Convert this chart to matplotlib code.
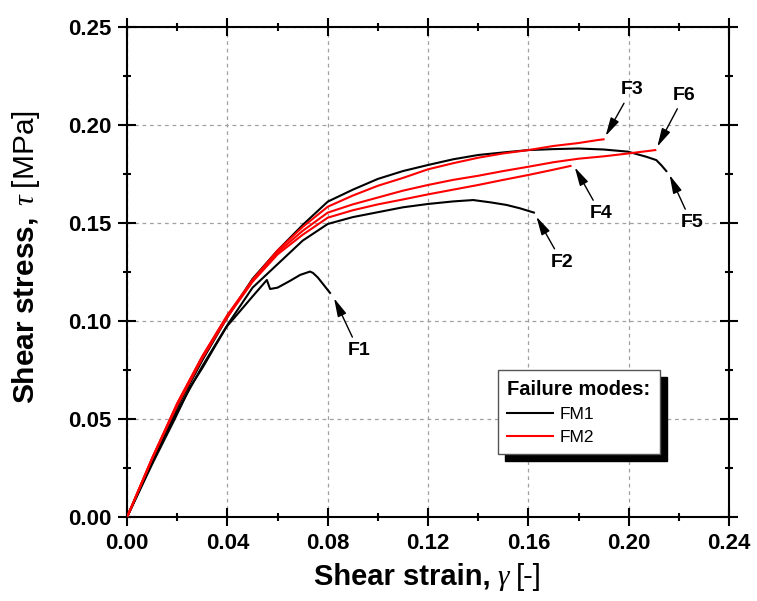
import matplotlib
matplotlib.use("Agg")
import matplotlib.pyplot as plt
from matplotlib.lines import Line2D
from matplotlib.ticker import MultipleLocator
from matplotlib.offsetbox import TextArea, HPacker, AnchoredOffsetbox

plt.rcParams['font.family'] = ['Liberation Sans', 'DejaVu Sans']
plt.rcParams['mathtext.fontset'] = 'custom'
plt.rcParams['mathtext.rm'] = 'Liberation Sans'
plt.rcParams['mathtext.bf'] = 'Liberation Sans:bold'
plt.rcParams['mathtext.it'] = 'Liberation Serif:italic'

# ---- data ----
f1_x = [0.0, 0.010, 0.019, 0.025, 0.030, 0.035, 0.0397, 0.045, 0.050, 0.0557,
        0.0570, 0.060, 0.065, 0.0690, 0.0729, 0.0741, 0.0760, 0.0780, 0.0809]
f1_y = [0.0, 0.027, 0.050, 0.066, 0.076, 0.087, 0.0971, 0.105, 0.1125, 0.1209,
        0.1163, 0.1170, 0.1205, 0.1235, 0.1252, 0.1245, 0.1222, 0.1190, 0.1143]

f2_x = [0.0, 0.010, 0.020, 0.030, 0.040, 0.050, 0.060, 0.070, 0.080, 0.090, 0.100,
        0.110, 0.120, 0.130, 0.138, 0.145, 0.1513, 0.1566, 0.1622]
f2_y = [0.0, 0.028, 0.054, 0.077, 0.098, 0.117, 0.129, 0.141, 0.1495, 0.153, 0.1555,
        0.158, 0.1597, 0.161, 0.1617, 0.1605, 0.1592, 0.1575, 0.1553]

f5_x = [0.0, 0.010, 0.020, 0.030, 0.040, 0.050, 0.060, 0.070, 0.080, 0.090, 0.100,
        0.110, 0.120, 0.130, 0.140, 0.150, 0.160, 0.170, 0.180, 0.190, 0.1997,
        0.2070, 0.2110, 0.2130, 0.2150]
f5_y = [0.0, 0.029, 0.056, 0.080, 0.102, 0.1215, 0.136, 0.149, 0.1609, 0.167, 0.1725,
        0.1765, 0.1796, 0.1825, 0.1847, 0.1860, 0.1872, 0.1877, 0.1880, 0.1875, 0.1864,
        0.1838, 0.1821, 0.1795, 0.1765]

f3_x = [0.0, 0.010, 0.020, 0.030, 0.040, 0.050, 0.060, 0.070, 0.080, 0.090, 0.100,
        0.110, 0.120, 0.130, 0.140, 0.150, 0.160, 0.170, 0.180, 0.1875, 0.190]
f3_y = [0.0, 0.030, 0.058, 0.082, 0.103, 0.121, 0.136, 0.148, 0.1583, 0.164, 0.169,
        0.173, 0.1774, 0.1805, 0.1833, 0.1855, 0.1872, 0.1893, 0.1908, 0.1923, 0.1927]

f6_x = [0.0, 0.010, 0.020, 0.030, 0.040, 0.050, 0.060, 0.070, 0.080, 0.090, 0.100,
        0.110, 0.120, 0.130, 0.140, 0.150, 0.160, 0.170, 0.180, 0.190, 0.200, 0.2106]
f6_y = [0.0, 0.030, 0.058, 0.082, 0.103, 0.1205, 0.135, 0.146, 0.1553, 0.1595, 0.163,
        0.1665, 0.1694, 0.172, 0.1741, 0.1765, 0.1787, 0.181, 0.1828, 0.1840, 0.1855, 0.1872]

f4_x = [0.0, 0.010, 0.020, 0.030, 0.040, 0.050, 0.060, 0.070, 0.080, 0.090, 0.100,
        0.110, 0.120, 0.130, 0.140, 0.150, 0.160, 0.170, 0.1768]
f4_y = [0.0, 0.030, 0.057, 0.081, 0.102, 0.120, 0.134, 0.144, 0.1527, 0.1565, 0.1595,
        0.162, 0.1646, 0.167, 0.1694, 0.172, 0.1745, 0.1772, 0.1791]

labels = ['F1', 'F2', 'F3', 'F4', 'F5', 'F6']
arrow_heads = [(0.0825, 0.1116), (0.1632, 0.1532), (0.1908, 0.1944),
               (0.1785, 0.1784), (0.2163, 0.1745), (0.2114, 0.1889)]
label_pos = [(0.0924, 0.0847), (0.1735, 0.1298), (0.2012, 0.2181),
             (0.1889, 0.1546), (0.2251, 0.1500), (0.2223, 0.2153)]

legend_title = 'Failure modes:'
legend_labels = ['FM1', 'FM2']
colors = {'FM1': 'black', 'FM2': '#ff0000'}

# ---- figure ----
fig = plt.figure(figsize=(7.57, 6.01), dpi=100)
ax = fig.add_axes([0.168, 0.140, 0.795, 0.815])

lw = 1.5
for xs, ys in [(f1_x, f1_y), (f2_x, f2_y), (f5_x, f5_y)]:
    ax.plot(xs, ys, color=colors['FM1'], lw=lw, zorder=3)
for xs, ys in [(f3_x, f3_y), (f6_x, f6_y), (f4_x, f4_y)]:
    ax.plot(xs, ys, color=colors['FM2'], lw=lw, zorder=4)

ax.set_xlim(0, 0.24)
ax.set_ylim(0, 0.25)
ax.xaxis.set_major_locator(MultipleLocator(0.04))
ax.xaxis.set_minor_locator(MultipleLocator(0.02))
ax.yaxis.set_major_locator(MultipleLocator(0.05))
ax.yaxis.set_minor_locator(MultipleLocator(0.025))
ax.xaxis.set_major_formatter(plt.FuncFormatter(lambda v, p: f"{v:.2f}"))
ax.yaxis.set_major_formatter(plt.FuncFormatter(lambda v, p: f"{v:.2f}"))

ax.grid(True, which='major', color='#a0a0a0', linestyle=(0, (3, 3)), lw=0.9)
ax.set_axisbelow(True)

for s in ax.spines.values():
    s.set_linewidth(1.5)
ax.tick_params(which='both', direction='inout', top=True, right=True, width=1.5)
ax.tick_params(which='major', length=13, pad=5)
ax.tick_params(which='minor', length=6)
for t in ax.get_xticklabels() + ax.get_yticklabels():
    t.set_fontsize(16)
    t.set_fontweight('bold')

# x label built from pieces: bold text, italic gamma, regular "[-]"
xl = HPacker(children=[
    TextArea("Shear strain,", textprops=dict(fontsize=21, fontweight='bold')),
    TextArea("\u03b3", textprops=dict(fontsize=21, style='italic',
                                       family='Liberation Serif')),
    TextArea("[-]", textprops=dict(fontsize=21)),
], align='baseline', pad=0, sep=5)
fig.add_artist(AnchoredOffsetbox(loc='center', child=xl, pad=0, borderpad=0,
                                 frameon=False, bbox_to_anchor=(0.565, 0.040),
                                 bbox_transform=fig.transFigure))

ax.set_ylabel(r"$\mathbf{Shear\ stress,}\ \tau\ \mathrm{[MPa]}$", fontsize=21.5)
ax.yaxis.set_label_coords(-0.141, 0.531)

for lab, head, pos in zip(labels, arrow_heads, label_pos):
    ax.annotate(lab, xy=head, xytext=pos, fontsize=14, fontweight='bold',
                ha='center', va='center', zorder=6,
                arrowprops=dict(arrowstyle='-|>,head_length=0.8,head_width=0.2',
                                color='black', lw=1.0, shrinkA=2, shrinkB=0))

handles = [Line2D([], [], color=colors[l], lw=1.5) for l in legend_labels]
leg = ax.legend(handles, legend_labels, title=legend_title, loc='lower left',
                bbox_to_anchor=(0.616, 0.128), borderaxespad=0, fancybox=False,
                frameon=True, framealpha=1, edgecolor='#555555', fontsize=12.5,
                title_fontproperties={'weight': 'bold', 'size': 14.5},
                alignment='left', handlelength=2.6, handletextpad=0.4,
                labelspacing=0.45, borderpad=0.55,
                shadow={'ox': 5, 'oy': -5, 'facecolor': 'black',
                        'edgecolor': 'black', 'alpha': 1})
leg.get_frame().set_linewidth(1.0)
leg.set_zorder(10)

fig.savefig('out.png', dpi=100)
